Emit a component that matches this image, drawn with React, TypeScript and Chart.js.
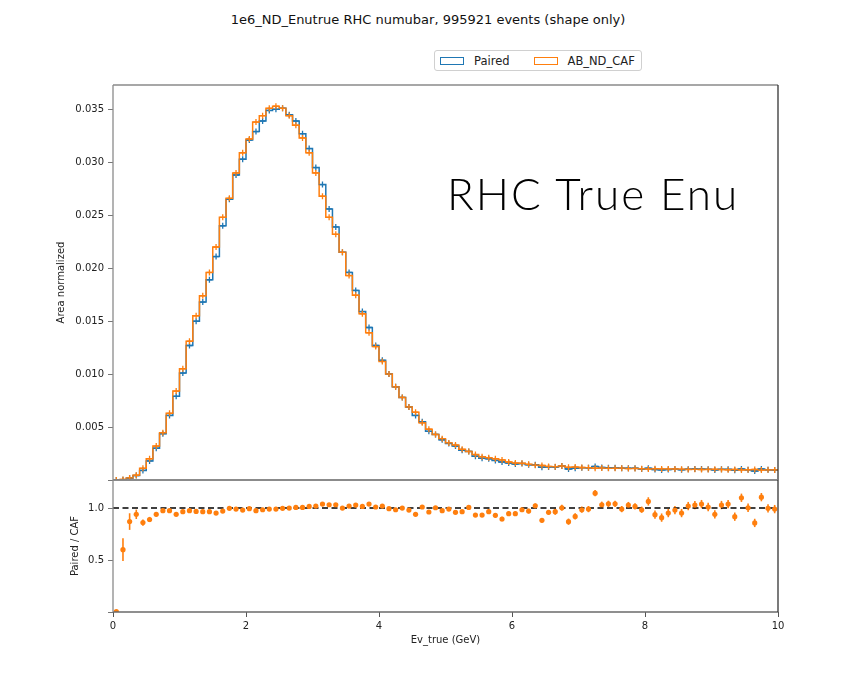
import React, { useEffect, useRef } from 'react';
import { Chart, registerables } from 'chart.js';
Chart.register(...registerables);

// ---------------- data ----------------
const X_MIN = 0;
const X_MAX = 10;
const N_BINS = 100;

// AB_ND_CAF (orange), area normalized, bins of 0.1 GeV
const CAF = [
  0.0, 0.00005, 0.0002, 0.00045, 0.0011, 0.0020, 0.0032, 0.00446, 0.0063, 0.0084,
  0.0105, 0.0131, 0.0155, 0.0174, 0.0196, 0.0220, 0.0248, 0.0266, 0.0290, 0.0309,
  0.0322, 0.0338, 0.0344, 0.0351, 0.0353, 0.0351, 0.0344, 0.0335, 0.0323, 0.0309,
  0.0290, 0.0268, 0.0248, 0.0232, 0.0215, 0.0193, 0.01745, 0.0157, 0.0139, 0.0126,
  0.0112, 0.0100, 0.0088, 0.0078, 0.0069, 0.0064, 0.0054, 0.0048, 0.0043, 0.0039,
  0.0035, 0.0033, 0.0029, 0.0027, 0.0024, 0.0022, 0.0021, 0.0020, 0.0019, 0.0017,
  0.0016, 0.00157, 0.00148, 0.0014, 0.00137, 0.00128, 0.00126, 0.00132, 0.0012, 0.00122,
  0.00118, 0.00116, 0.00112, 0.00114, 0.0011, 0.00111, 0.00112, 0.00108, 0.00109, 0.00107,
  0.00104, 0.00106, 0.00105, 0.00103, 0.00104, 0.00102, 0.0010, 0.00101, 0.00099, 0.0010,
  0.00101, 0.00098, 0.00097, 0.00099, 0.00095, 0.00097, 0.00099, 0.00094, 0.00096, 0.00095,
];

// Paired (blue)
const PAIRED = [
  0.0, 0.00003, 0.00017, 0.00042, 0.0009, 0.0018, 0.0030, 0.00437, 0.0061, 0.0079,
  0.0101, 0.0127, 0.0150, 0.0168, 0.0189, 0.0211, 0.0240, 0.0265, 0.0288, 0.0303,
  0.0321, 0.0329, 0.0339, 0.0349, 0.0350, 0.0351, 0.0345, 0.0339, 0.0327, 0.0313,
  0.0295, 0.0279, 0.0256, 0.0239, 0.0215, 0.0196, 0.0179, 0.0159, 0.0144, 0.0127,
  0.0113, 0.0100, 0.0088, 0.0078, 0.0069, 0.0061, 0.0055, 0.0046, 0.0043, 0.0038,
  0.00345, 0.0032, 0.0028, 0.0027, 0.00225, 0.00205, 0.0020, 0.00185, 0.0017, 0.0016,
  0.0015, 0.00155, 0.00144, 0.00143, 0.00121, 0.00123, 0.00122, 0.00132, 0.00104, 0.00112,
  0.00116, 0.00115, 0.00128, 0.00118, 0.00115, 0.00116, 0.00111, 0.00111, 0.00111, 0.00105,
  0.00111, 0.00099, 0.00095, 0.00098, 0.00102, 0.00097, 0.00102, 0.00104, 0.00103, 0.00101,
  0.00095, 0.00101, 0.00101, 0.00091, 0.00104, 0.00097, 0.00085, 0.00104, 0.00096, 0.00094,
];

// Paired / CAF ratio per bin
const RATIO = [
  0.005, 0.60, 0.87, 0.94, 0.86, 0.89, 0.94, 0.975, 0.975, 0.94,
  0.965, 0.975, 0.968, 0.965, 0.965, 0.952, 0.971, 0.997, 0.99, 0.981,
  0.994, 0.975, 0.984, 0.99, 0.99, 0.997, 1.0, 1.006, 1.006, 1.016,
  1.019, 1.038, 1.032, 1.032, 1.0, 1.019, 1.029, 1.016, 1.038, 1.01,
  1.019, 0.994, 0.984, 1.0, 0.981, 0.94, 1.01, 0.962, 1.003, 0.975,
  0.99, 0.959, 0.965, 1.006, 0.933, 0.933, 0.965, 0.93, 0.895, 0.946,
  0.946, 0.984, 0.971, 1.022, 0.882, 0.959, 0.965, 1.003, 0.869, 0.92,
  0.984, 0.99, 1.143, 1.032, 1.041, 1.041, 0.99, 1.029, 1.016, 0.984,
  1.064, 0.936, 0.908, 0.952, 0.981, 0.952, 1.019, 1.029, 1.038, 1.01,
  0.94, 1.029, 1.038, 0.917, 1.099, 1.003, 0.857, 1.105, 0.997, 0.99,
];

const RATIO_ERR = [
  0.0, 0.11, 0.08, 0.045, 0.03, 0.025, 0.02, 0.015, 0.015, 0.015,
  0.015, 0.015, 0.015, 0.015, 0.015, 0.01, 0.01, 0.01, 0.01, 0.01,
  0.01, 0.01, 0.01, 0.01, 0.01, 0.01, 0.01, 0.01, 0.01, 0.01,
  0.01, 0.01, 0.01, 0.01, 0.01, 0.01, 0.01, 0.01, 0.01, 0.01,
  0.01, 0.01, 0.01, 0.01, 0.01, 0.01, 0.015, 0.015, 0.015, 0.015,
  0.015, 0.015, 0.015, 0.015, 0.015, 0.015, 0.022, 0.022, 0.022, 0.022,
  0.022, 0.022, 0.022, 0.022, 0.022, 0.022, 0.03, 0.03, 0.03, 0.03,
  0.03, 0.03, 0.03, 0.03, 0.03, 0.03, 0.03, 0.03, 0.03, 0.03,
  0.04, 0.04, 0.04, 0.04, 0.04, 0.04, 0.04, 0.04, 0.04, 0.04,
  0.04, 0.04, 0.04, 0.04, 0.04, 0.04, 0.04, 0.04, 0.04, 0.04,
];

const SERIES_NAMES = ['Paired', 'AB_ND_CAF'];
const TITLE = '1e6_ND_Enutrue RHC numubar, 995921 events (shape only)';
const ANNOTATION = 'RHC True Enu';
const X_LABEL = 'Ev_true (GeV)';
const TOP_Y_LABEL = 'Area normalized';
const BOT_Y_LABEL = 'Paired / CAF';
const REF_LINE = 1.0;

const BLUE = '#1f77b4';
const ORANGE = '#ff7f0e';
const FONT = '"DejaVu Sans", sans-serif';

const BIN_EDGES = Array.from({ length: N_BINS + 1 }, (_, i) => X_MIN + (i * (X_MAX - X_MIN)) / N_BINS);
const BIN_CENTERS = BIN_EDGES.slice(0, N_BINS).map((e, i) => (e + BIN_EDGES[i + 1]) / 2);

const stepPoints = (vals: number[]) =>
  BIN_EDGES.map((x, i) => ({ x, y: vals[Math.min(i, vals.length - 1)] }));
const centerPoints = (vals: number[]) => BIN_CENTERS.map((x, i) => ({ x, y: vals[i] }));

// ---------------- plugins ----------------
const framePlugin = {
  id: 'frame',
  afterDraw(chart: any) {
    const { ctx, chartArea: a } = chart;
    ctx.save();
    ctx.lineWidth = 1.3;
    const seg = (x1: number, y1: number, x2: number, y2: number, c: string) => {
      ctx.strokeStyle = c;
      ctx.beginPath();
      ctx.moveTo(x1, y1);
      ctx.lineTo(x2, y2);
      ctx.stroke();
    };
    seg(a.left, a.top, a.right, a.top, '#8a8a8a');
    seg(a.left, a.bottom, a.right, a.bottom, '#6a6a6a');
    seg(a.left, a.top, a.left, a.bottom, '#8a8a8a');
    seg(a.right, a.top, a.right, a.bottom, '#333333');
    ctx.restore();
  },
};

const errorBarPlugin = {
  id: 'errbars',
  beforeDatasetsDraw(chart: any) {
    const { ctx } = chart;
    const yScale = chart.scales.y;
    chart.data.datasets.forEach((ds: any, di: number) => {
      if (!ds.errors) return;
      const meta = chart.getDatasetMeta(di);
      ctx.save();
      ctx.strokeStyle = ds.backgroundColor;
      ctx.lineWidth = 1.6;
      meta.data.forEach((pt: any, i: number) => {
        const e = ds.errors[i];
        if (!e) return;
        const v = ds.data[i].y;
        ctx.beginPath();
        ctx.moveTo(pt.x, yScale.getPixelForValue(v - e));
        ctx.lineTo(pt.x, yScale.getPixelForValue(v + e));
        ctx.stroke();
      });
      ctx.restore();
    });
  },
};

const tickFont = { family: FONT, size: 10 };
const titleFont = { family: FONT, size: 10 };

export default function App() {
  const topRef = useRef<HTMLCanvasElement>(null);
  const botRef = useRef<HTMLCanvasElement>(null);

  useEffect(() => {
    document.body.style.margin = '0';
    const top = new Chart(topRef.current!, {
      type: 'line',
      data: {
        datasets: [
          {
            label: SERIES_NAMES[1] + ' markers',
            data: centerPoints(CAF),
            showLine: false,
            pointStyle: 'cross',
            pointRadius: 3,
            pointBorderWidth: 1.3,
            borderColor: ORANGE,
            backgroundColor: ORANGE,
            order: 0,
          },
          {
            label: SERIES_NAMES[0] + ' markers',
            data: centerPoints(PAIRED),
            showLine: false,
            pointStyle: 'cross',
            pointRadius: 3,
            pointBorderWidth: 1.3,
            borderColor: BLUE,
            backgroundColor: BLUE,
            order: 1,
          },
          {
            label: SERIES_NAMES[1],
            data: stepPoints(CAF),
            stepped: 'before',
            borderColor: ORANGE,
            borderWidth: 1.5,
            pointRadius: 0,
            fill: false,
            order: 2,
          },
          {
            label: SERIES_NAMES[0],
            data: stepPoints(PAIRED),
            stepped: 'before',
            borderColor: BLUE,
            borderWidth: 1.5,
            pointRadius: 0,
            fill: false,
            order: 3,
          },
        ],
      },
      options: {
        animation: false,
        responsive: false,
        devicePixelRatio: 1,
        layout: { padding: { top: 85, right: 78, bottom: 10, left: 0 } },
        plugins: { legend: { display: false }, tooltip: { enabled: false }, title: { display: false } },
        scales: {
          x: { type: 'linear', min: X_MIN, max: X_MAX, display: false },
          y: {
            type: 'linear',
            min: 0,
            max: 0.0373,
            ticks: {
              stepSize: 0.005,
              includeBounds: false,
              font: tickFont,
              color: '#222',
              padding: 4,
              callback: (v: any) => (Math.abs(v) < 1e-9 ? '' : Number(v).toFixed(3)),
            },
            grid: { drawOnChartArea: false, drawTicks: true, tickLength: 5, tickColor: '#777' },
            border: { display: false },
            title: { display: true, text: TOP_Y_LABEL, font: titleFont, color: '#222', padding: { top: 55, bottom: 0 } },
            afterFit: (s: any) => {
              s.width = 113;
            },
          },
        },
      },
      plugins: [framePlugin],
    } as any);

    const bot = new Chart(botRef.current!, {
      type: 'line',
      data: {
        datasets: [
          {
            label: 'ratio',
            data: centerPoints(RATIO),
            errors: RATIO_ERR,
            showLine: false,
            pointStyle: 'circle',
            pointRadius: 2.6,
            pointBorderWidth: 0,
            borderColor: ORANGE,
            backgroundColor: ORANGE,
            order: 0,
          },
          {
            label: 'ref',
            data: [
              { x: X_MIN, y: REF_LINE },
              { x: X_MAX, y: REF_LINE },
            ],
            borderColor: '#000',
            borderWidth: 1.5,
            borderDash: [6, 3.5],
            pointRadius: 0,
            order: 1,
          },
        ],
      },
      options: {
        animation: false,
        responsive: false,
        devicePixelRatio: 1,
        layout: { padding: { top: 10, right: 78, bottom: 0, left: 0 } },
        plugins: { legend: { display: false }, tooltip: { enabled: false }, title: { display: false } },
        scales: {
          x: {
            type: 'linear',
            min: X_MIN,
            max: X_MAX,
            ticks: {
              stepSize: 2,
              includeBounds: false,
              font: tickFont,
              color: '#222',
              padding: 3,
              maxRotation: 0,
              callback: (v: any) => String(Math.round(v)),
            },
            grid: { drawOnChartArea: false, drawTicks: true, tickLength: 5, tickColor: '#555' },
            border: { display: false },
            title: { display: true, text: X_LABEL, font: titleFont, color: '#222', padding: { top: 0, bottom: 41 } },
            afterFit: (s: any) => {
              s.height = 75;
            },
          },
          y: {
            type: 'linear',
            min: 0,
            max: 1.27,
            ticks: {
              stepSize: 0.5,
              includeBounds: false,
              font: tickFont,
              color: '#222',
              padding: 4,
              callback: (v: any) => (Math.abs(v) < 1e-9 ? '' : Number(v).toFixed(1)),
            },
            grid: { drawOnChartArea: false, drawTicks: true, tickLength: 5, tickColor: '#777' },
            border: { display: false },
            title: { display: true, text: BOT_Y_LABEL, font: titleFont, color: '#222', padding: { top: 69, bottom: 0 } },
            afterFit: (s: any) => {
              s.width = 113;
            },
          },
        },
      },
      plugins: [framePlugin, errorBarPlugin],
    } as any);

    return () => {
      top.destroy();
      bot.destroy();
    };
  }, []);

  const legendPatch = (color: string) => (
    <span
      style={{
        display: 'inline-block',
        width: 24,
        height: 8,
        border: `1.3px solid ${color}`,
        boxSizing: 'border-box',
        verticalAlign: 'middle',
      }}
    />
  );

  return (
    <div style={{ position: 'relative', width: 856, height: 687, background: '#fff', fontFamily: FONT, overflow: 'hidden' }}>
      <div
        style={{
          position: 'absolute',
          left: 0,
          top: 12,
          width: 856,
          textAlign: 'center',
          fontSize: 13,
          color: '#111',
          whiteSpace: 'nowrap',
        }}
      >
        {TITLE}
      </div>
      <div
        style={{
          position: 'absolute',
          left: 434,
          top: 50,
          width: 208,
          height: 21,
          border: '1px solid #d0d0d0',
          borderRadius: 3,
          boxSizing: 'border-box',
          fontSize: 11.5,
          color: '#222',
          display: 'flex',
          alignItems: 'center',
          whiteSpace: 'nowrap',
        }}
      >
        <span style={{ marginLeft: 5, display: 'flex' }}>{legendPatch(BLUE)}</span>
        <span style={{ marginLeft: 10 }}>{SERIES_NAMES[0]}</span>
        <span style={{ marginLeft: 24, display: 'flex' }}>{legendPatch(ORANGE)}</span>
        <span style={{ marginLeft: 10 }}>{SERIES_NAMES[1]}</span>
      </div>
      <canvas
        ref={topRef}
        width={856}
        height={490}
        style={{ position: 'absolute', left: 0, top: 0, width: 856, height: 490 }}
      />
      <canvas
        ref={botRef}
        width={856}
        height={217}
        style={{ position: 'absolute', left: 0, top: 470, width: 856, height: 217 }}
      />
      <div
        style={{
          position: 'absolute',
          left: 447,
          top: 167,
          fontFamily: 'Lato, "Open Sans", sans-serif',
          fontWeight: 300,
          fontSize: 44,
          letterSpacing: 2,
          lineHeight: 'normal',
          color: '#000',
          whiteSpace: 'nowrap',
        }}
      >
        {ANNOTATION}
      </div>
    </div>
  );
}
